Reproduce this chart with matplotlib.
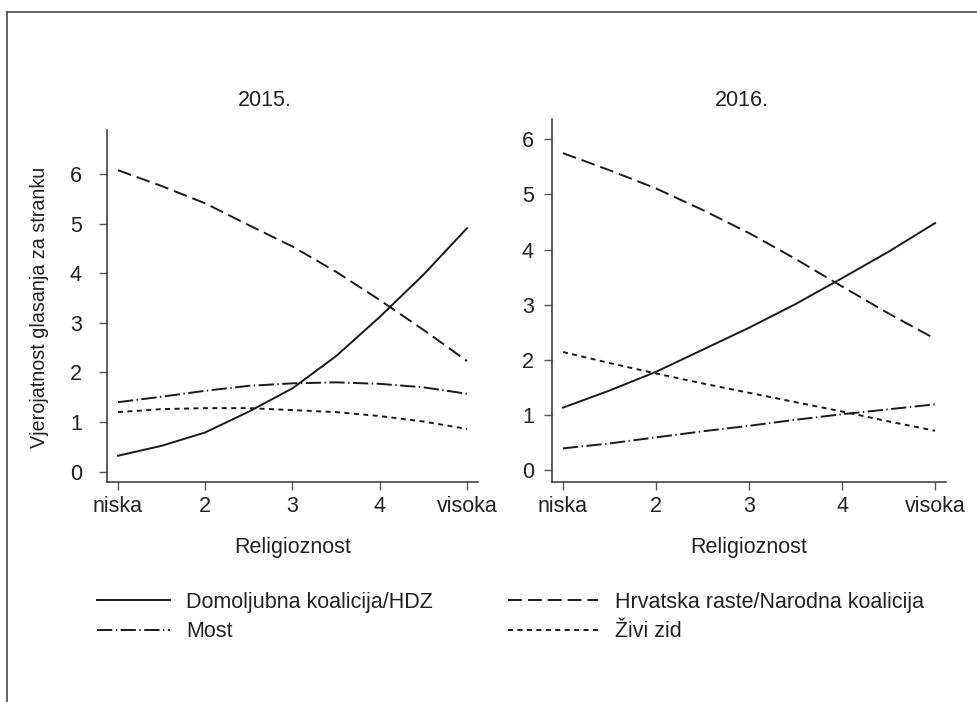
import matplotlib
matplotlib.use("Agg")
from matplotlib import pyplot as plt
from matplotlib.lines import Line2D

plt.rcParams['font.family'] = ['Liberation Sans', 'DejaVu Sans']
plt.rcParams['lines.scale_dashes'] = False

# religioznost: niska (1) ... visoka (5)
religioznost = [1, 1.5, 2, 2.5, 3, 3.5, 4, 4.5, 5]
x_ticks = [1, 2, 3, 4, 5]
x_ticklabels = ['niska', '2', '3', '4', 'visoka']

parties = ['Domoljubna koalicija/HDZ', 'Hrvatska raste/Narodna koalicija', 'Most', 'Živi zid']

hdz_2015 = [0.32, 0.52, 0.79, 1.21, 1.68, 2.33, 3.12, 3.97, 4.91]
hrv_2015 = [6.08, 5.76, 5.41, 4.97, 4.54, 4.03, 3.46, 2.86, 2.23]
most_2015 = [1.40, 1.51, 1.63, 1.73, 1.78, 1.80, 1.77, 1.70, 1.57]
zid_2015 = [1.20, 1.26, 1.28, 1.28, 1.24, 1.20, 1.12, 1.01, 0.86]

hdz_2016 = [1.13, 1.44, 1.78, 2.18, 2.58, 3.01, 3.48, 3.96, 4.48]
hrv_2016 = [5.75, 5.44, 5.11, 4.72, 4.30, 3.83, 3.33, 2.84, 2.38]
most_2016 = [0.39, 0.48, 0.59, 0.70, 0.80, 0.91, 1.01, 1.10, 1.19]
zid_2016 = [2.14, 1.94, 1.75, 1.57, 1.40, 1.23, 1.06, 0.88, 0.71]

styles = {
    'Domoljubna koalicija/HDZ': '-',
    'Hrvatska raste/Narodna koalicija': (0, (10, 4.3)),
    'Most': (0, (11, 2.5, 1, 2.5)),
    'Živi zid': (0, (3.6, 3.2)),
}

line_color = '#1a1a1a'
spine_color = '#333333'
text_color = '#222222'
fs = 15.5

W, H = 978, 702
fig = plt.figure(figsize=(W / 100, H / 100), dpi=100)


def px_axes(x0, x1, y0, y1):
    return fig.add_axes([x0 / W, (H - y1) / H, (x1 - x0) / W, (y1 - y0) / H])


panels = [
    (px_axes(107, 478, 130, 482), (0.874, 5.126), (-0.21, 6.89), 12,
     [hdz_2015, hrv_2015, most_2015, zid_2015]),
    (px_axes(552, 946, 119, 482), (0.882, 5.118), (-0.22, 6.37), 7,
     [hdz_2016, hrv_2016, most_2016, zid_2016]),
]

for ax, xlim, ylim, ypad, series in panels:
    for name, vals in zip(parties, series):
        ax.plot(religioznost, vals, color=line_color, lw=1.4,
                linestyle=styles[name], label=name)
    ax.set_xlim(*xlim)
    ax.set_ylim(*ylim)
    ax.set_xticks(x_ticks)
    ax.set_xticklabels(x_ticklabels)
    ax.set_yticks(range(0, 7))
    for side in ['top', 'right']:
        ax.spines[side].set_visible(False)
    for side in ['left', 'bottom']:
        ax.spines[side].set_color(spine_color)
        ax.spines[side].set_linewidth(1.1)
    ax.tick_params(length=6, width=1, color='#555555', labelsize=fs,
                   labelcolor=text_color)
    ax.tick_params(axis='x', pad=4)
    ax.tick_params(axis='y', pad=ypad)
    ax.set_xlabel('Religioznost', fontsize=fs, color=text_color, labelpad=14.5)

fig.text(265 / W, 1 - 100 / H, '2015.', ha='center', va='center', fontsize=fs, color=text_color)
fig.text(742 / W, 1 - 100 / H, '2016.', ha='center', va='center', fontsize=fs, color=text_color)
fig.text(40 / W, 1 - 307 / H, 'Vjerojatnost glasanja za stranku', rotation=90,
         ha='center', va='center', fontsize=14.2, color=text_color)

ax0 = panels[0][0]
handles, labels = ax0.get_legend_handles_labels()
legend_opts = dict(loc='upper left', frameon=False, fontsize=fs, borderpad=0,
                   borderaxespad=0, labelspacing=0.38, labelcolor=text_color)
fig.legend([handles[0], handles[2]], [labels[0], labels[2]],
           bbox_to_anchor=(97 / W, 1 - 592 / H), handlelength=3.4,
           handletextpad=0.75, **legend_opts)
fig.legend([handles[1], handles[3]], [labels[1], labels[3]],
           bbox_to_anchor=(508 / W, 1 - 592 / H), handlelength=4.2,
           handletextpad=0.75, **legend_opts)

# partial frame around the figure
fig.add_artist(Line2D([7 / W, 1], [1 - 12 / H, 1 - 12 / H], color='#555555', lw=1.3))
fig.add_artist(Line2D([7 / W, 7 / W], [0, 1 - 12 / H], color='#555555', lw=1.3))

fig.savefig('out.png', dpi=100)
